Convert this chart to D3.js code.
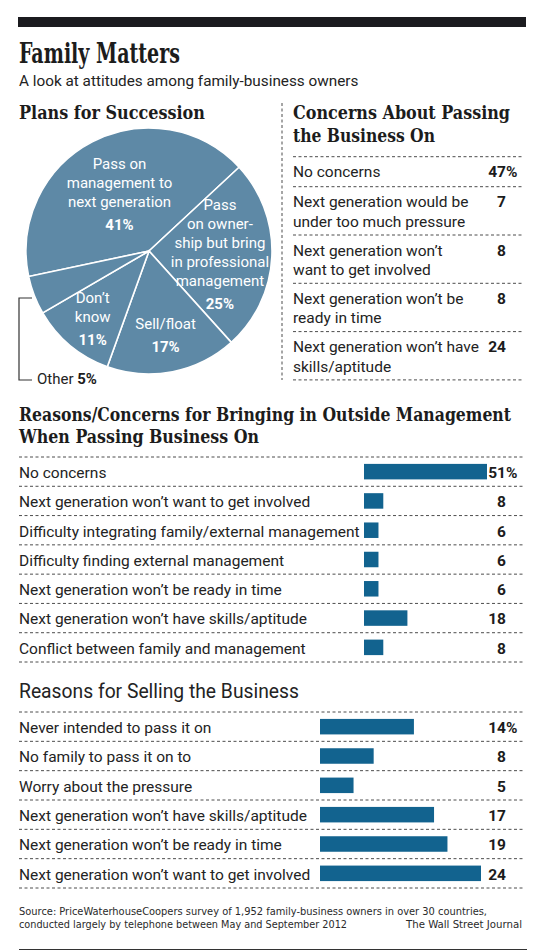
<!DOCTYPE html>
<html lang="en">
<head>
<meta charset="UTF-8">
<title>Family Matters</title>
<style>
  body { margin: 0; background: #fff; }
  svg { display: block; }
  .slab { font-family: 'DejaVu Serif Condensed', 'DejaVu Serif', serif; font-weight: bold; fill: #1c1c1c; }
  .sans { font-family: Roboto, 'Open Sans', sans-serif; fill: #232323; }
  .num { font-family: Roboto, sans-serif; font-weight: bold; fill: #1c1c1c; }
  .note { font-family: 'Liberation Sans Narrow', 'DejaVu Sans Condensed', sans-serif; fill: #2a2a2a; }
  .rule { stroke: #4d4d4d; stroke-dasharray: 3 2.5; stroke-width: 1; fill: none; }
</style>
</head>
<body>
<script src="https://cdn.jsdelivr.net/npm/d3@7"></script>
<script>

// ---- data ----
const pieLabels = ['Pass on\nmanagement to\nnext generation', 'Pass\non owner-\nship but bring\nin professional\nmanagement', 'Sell/float', 'Don\u2019t\nknow', 'Other']
const pieValues = [41, 25, 17, 11, 5]

const concernLabels = ['No concerns', 'Next generation would be\nunder too much pressure', 'Next generation won\u2019t\nwant to get involved', 'Next generation won\u2019t be\nready in time', 'Next generation won\u2019t have\nskills/aptitude']
const concernValues = [47, 7, 8, 8, 24]

const outsideLabels = ['No concerns', 'Next generation won\u2019t want to get involved', 'Difficulty integrating family/external management', 'Difficulty finding external management', 'Next generation won\u2019t be ready in time', 'Next generation won\u2019t have skills/aptitude', 'Conflict between family and management']
const outsideValues = [51, 8, 6, 6, 6, 18, 8]

const sellLabels = ['Never intended to pass it on', 'No family to pass it on to', 'Worry about the pressure', 'Next generation won\u2019t have skills/aptitude', 'Next generation won\u2019t be ready in time', 'Next generation won\u2019t want to get involved']
const sellValues = [14, 8, 5, 17, 19, 24]

const sourceLines = ['Source: PriceWaterhouseCoopers survey of 1,952 family-business owners in over 30 countries,', 'conducted largely by telephone between May and September 2012']
const credit = 'The Wall Street Journal'

const W = 555, H = 951
const barColor = '#12638f'
const pieColor = '#5e89a6'

const svg = d3.select('body').append('svg')
    .attr('width', W)
    .attr('height', H)

// squeeze a text to the width it takes in the print version
function squeeze(sel, width) {
    return sel.attr('textLength', width).attr('lengthAdjust', 'spacingAndGlyphs')
}

function slab(x, y, size, width, txt) {
    return squeeze(svg.append('text')
        .attr('class', 'slab')
        .attr('x', x).attr('y', y)
        .style('font-size', size + 'px')
        .text(txt), width)
}

function dashed(x1, x2, y) {
    svg.append('line').attr('class', 'rule')
        .attr('x1', x1).attr('x2', x2)
        .attr('y1', y).attr('y2', y)
}

// ---- header ----
svg.append('rect')
    .attr('x', 18).attr('y', 17)
    .attr('width', 508).attr('height', 10)
    .attr('fill', '#1b1b1f')

slab(19, 63, 27, 161, 'Family Matters')

svg.append('text').attr('class', 'sans')
    .attr('x', 19).attr('y', 86)
    .style('font-size', '15.3px')
    .text('A look at attitudes among family-business owners')

// ---- pie ----
slab(19, 119, 18.5, 186, 'Plans for Succession')

const pieX = 149, pieY = 251, pieR = 123
const start = -102 * Math.PI / 180

const pie = d3.pie().sort(null).value(d => d)
    .startAngle(start).endAngle(start + 2 * Math.PI)
const arc = d3.arc().innerRadius(0).outerRadius(pieR)
const arcs = pie(pieValues)

const pg = svg.append('g').attr('transform', `translate(${pieX},${pieY})`)

pg.selectAll('path')
    .data(arcs)
    .join('path')
    .attr('d', arc)
    .attr('fill', pieColor)
    .attr('stroke', '#fff')
    .attr('stroke-width', 1.6)

const labelRadius = [64, 71, 86, 88]
const lh = 19

arcs.slice(0, 4).forEach((d, i) => {
    const c = d3.arc().innerRadius(labelRadius[i]).outerRadius(labelRadius[i]).centroid(d)
    const lines = pieLabels[i].split('\n')
    const blockH = (lines.length - 1) * lh + 23 + 11
    const y0 = c[1] - blockH / 2 + 11
    const t = pg.append('text')
        .attr('class', 'sans')
        .attr('text-anchor', 'middle')
        .style('font-size', '15px')
        .style('fill', '#fff')
    lines.forEach((l, j) => {
        t.append('tspan').attr('x', c[0]).attr('y', y0 + j * lh).text(l)
    })
    t.append('tspan')
        .attr('x', c[0]).attr('y', y0 + (lines.length - 1) * lh + 23)
        .style('font-weight', 'bold')
        .text(pieValues[i] + '%')
})

// "Other" sits outside with a bracket
svg.append('path')
    .attr('d', `M${pieX - 117},${pieY + 47}H19V${pieY + 129}H32`)
    .attr('fill', 'none')
    .attr('stroke', '#333')
    .attr('stroke-width', 1.2)

svg.append('text').attr('class', 'sans')
    .attr('x', 37).attr('y', pieY + 133)
    .style('font-size', '15px')
    .text(pieLabels[4] + ' ')
    .append('tspan')
    .attr('class', 'num')
    .text(pieValues[4] + '%')

// ---- concerns table ----
const tx0 = 293, tx1 = 523, tnum = 506

svg.append('line').attr('class', 'rule')
    .attr('x1', 282).attr('x2', 282)
    .attr('y1', 103).attr('y2', 380)

slab(tx0, 119, 18.5, 217, 'Concerns About Passing')
slab(tx0, 142, 18.5, 142, 'the Business On')

let ty = 156.7
dashed(tx0, tx1, ty)
concernLabels.forEach((lab, i) => {
    const lines = lab.split('\n')
    const t = svg.append('text').attr('class', 'sans').style('font-size', '15.5px')
    lines.forEach((l, j) => {
        t.append('tspan').attr('x', tx0).attr('y', ty + 20.5 + j * 19.5).text(l)
    })
    svg.append('text').attr('class', 'num')
        .attr('x', tnum).attr('y', ty + 20.5)
        .attr('text-anchor', 'end')
        .style('font-size', '15.5px')
        .text(concernValues[i])
    if (i === 0) {
        svg.append('text').attr('class', 'num')
            .attr('x', tnum).attr('y', ty + 20.5)
            .style('font-size', '15.5px')
            .text('%')
    }
    ty += lines.length === 1 ? 30 : 48.3
    dashed(tx0, tx1, ty)
})

// ---- bar sections ----
function barSection(labels, values, top, bottom, xStart, xEnd, maxVal) {
    const y = d3.scaleBand().domain(labels.map((d, i) => i)).range([top, bottom])
    const x = d3.scaleLinear().domain([0, maxVal]).range([xStart, xEnd])
    const bh = 15.5

    dashed(19, 525, top)
    labels.forEach((lab, i) => {
        const yy = y(i)
        svg.append('text').attr('class', 'sans')
            .attr('x', 19).attr('y', yy + 21)
            .style('font-size', '15.5px')
            .text(lab)
        svg.append('rect')
            .attr('x', x(0))
            .attr('y', yy + (y.bandwidth() - bh) / 2)
            .attr('width', x(values[i]) - x(0))
            .attr('height', bh)
            .attr('fill', barColor)
        svg.append('text').attr('class', 'num')
            .attr('x', 506).attr('y', yy + 21)
            .attr('text-anchor', 'end')
            .style('font-size', '15.5px')
            .text(values[i])
        if (i === 0) {
            svg.append('text').attr('class', 'num')
                .attr('x', 506).attr('y', yy + 21)
                .style('font-size', '15.5px')
                .text('%')
        }
        dashed(19, 525, yy + y.bandwidth())
    })
}

slab(19, 421, 18.5, 492, 'Reasons/Concerns for Bringing in Outside Management')
slab(19, 443, 18.5, 240, 'When Passing Business On')
barSection(outsideLabels, outsideValues, 457, 662, 364, 487, 51)

svg.append('text').attr('class', 'sans')
    .attr('x', 19).attr('y', 698)
    .style('font-size', '19.3px')
    .text('Reasons for Selling the Business')
barSection(sellLabels, sellValues, 712, 888, 320, 481, 24)

// ---- footer ----
const noteWidths = [468, 328]
sourceLines.forEach((l, i) => {
    squeeze(svg.append('text').attr('class', 'note')
        .attr('x', 19).attr('y', 915 + i * 13)
        .style('font-size', '11px')
        .text(l), noteWidths[i])
})

squeeze(svg.append('text').attr('class', 'note')
    .attr('x', 406).attr('y', 928)
    .style('font-size', '11px')
    .text(credit), 116)

svg.append('line')
    .attr('x1', 19).attr('x2', 527)
    .attr('y1', 949.5).attr('y2', 949.5)
    .attr('stroke', '#333')
    .attr('stroke-width', 1.2)

</script>
</body>
</html>
